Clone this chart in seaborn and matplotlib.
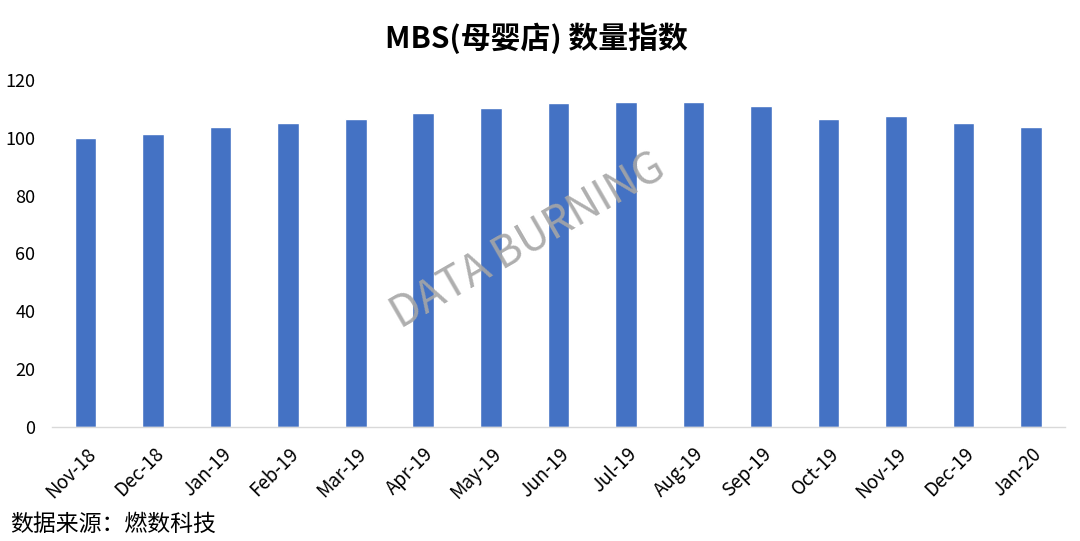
import matplotlib
matplotlib.use("Agg")
import matplotlib.pyplot as plt
import seaborn as sns
import pandas as pd

months = ["Nov-18", "Dec-18", "Jan-19", "Feb-19", "Mar-19", "Apr-19", "May-19", "Jun-19",
          "Jul-19", "Aug-19", "Sep-19", "Oct-19", "Nov-19", "Dec-19", "Jan-20"]
index_vals = [100.0, 101.3, 103.6, 105.3, 106.6, 108.5, 110.5, 111.9,
              112.5, 112.5, 110.9, 106.5, 107.5, 105.0, 103.9]
y_ticks = [0, 20, 40, 60, 80, 100, 120]

title = "MBS(母婴店) 数量指数"
source = "数据来源：燃数科技"
watermark = "DATA BURNING"

sns.set_style("white")
plt.rcParams['font.family'] = ['Noto Sans CJK SC', 'DejaVu Sans']

df = pd.DataFrame({"month": months, "value": index_vals})

fig = plt.figure(figsize=(10.8, 5.41), dpi=100)
ax = fig.add_axes([0.048, 0.211, 0.938, 0.641])
sns.barplot(data=df, x="month", y="value", color="#4472c4", width=0.32,
            saturation=1, ax=ax)

ax.set_ylim(0, 120)
ax.set_yticks(y_ticks)
ax.set_xlim(-0.5, len(months) - 0.5)
ax.set_xlabel("")
ax.set_ylabel("")
ax.tick_params(axis="both", labelsize=13, colors="#000000", length=0)
ax.tick_params(axis="y", pad=12)
ax.tick_params(axis="x", labelsize=13.5, pad=12)
plt.setp(ax.get_xticklabels(), rotation=45, ha="right", rotation_mode="anchor")
for s in ["top", "right", "left"]:
    ax.spines[s].set_visible(False)
ax.spines["bottom"].set_color("#d9d9d9")
ax.spines["bottom"].set_linewidth(1.0)

fig.text(0.497, 0.93, title, ha="center", va="center", fontsize=21.5,
         fontweight="bold", color="#000000")
fig.text(0.489, 0.553, watermark, ha="center", va="center", fontsize=31,
         color="#a6a6a6", rotation=30, alpha=0.9)
fig.text(0.009, 0.03, source, ha="left", va="center", fontsize=16.5, color="#000000")

fig.savefig("out.png", dpi=100)
